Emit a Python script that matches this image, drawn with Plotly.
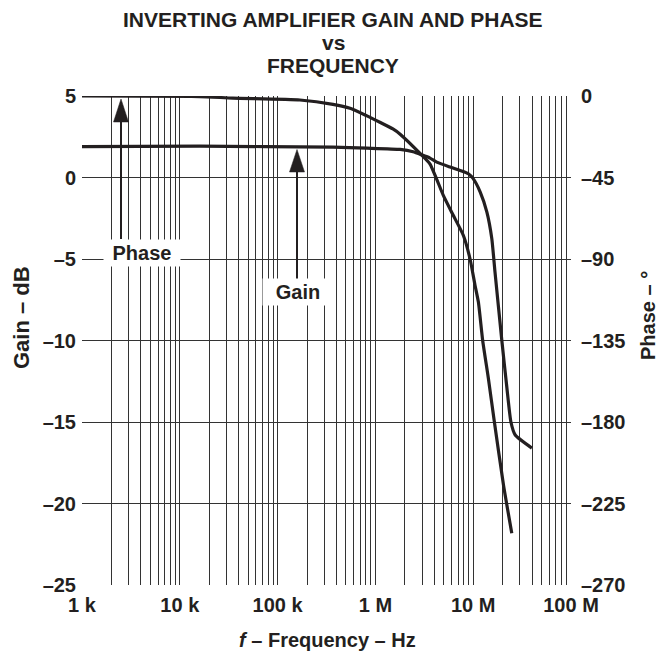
import plotly.graph_objects as go

# ---- data ----
phase_freq = [1e3, 16e3, 34.8e3, 169e3, 368e3, 550e3, 820e3, 1.11e6, 1.51e6, 1.79e6,
              2.98e6, 3.62e6, 4.96e6, 6.27e6, 7.94e6, 9.29e6, 10.45e6, 11.3e6, 12.5e6,
              14.3e6, 16.4e6, 20.4e6, 24.8e6]
phase_deg = [0, -0.3, -1.2, -2.2, -4.6, -6.8, -11, -14.5, -18.2, -21.1,
             -32.7, -37.6, -55, -66, -77, -90, -104.6, -113.8, -135,
             -156, -179.3, -214.8, -241.4]

gain_freq = [1e3, 16e3, 368e3, 820e3, 1.79e6, 2.43e6, 2.98e6, 3.62e6, 4.24e6, 5.81e6,
             7.35e6, 8.93e6, 9.91e6, 11.8e6, 13.8e6, 15.5e6, 16.7e6, 19.6e6, 22.1e6,
             24.3e6, 26.9e6, 39.8e6]
gain_db = [1.9, 1.92, 1.86, 1.8, 1.72, 1.58, 1.39, 1.19, 0.94, 0.64,
           0.43, 0.23, -0.04, -0.89, -2.12, -3.75, -5.79, -9.97, -12.9,
           -15.0, -15.8, -16.6]

x_tick_labels = ["1 k", "10 k", "100 k", "1 M", "10 M", "100 M"]
gain_ticks = [5, 0, -5, -10, -15, -20, -25]
gain_tick_labels = ["5", "0", "–5", "–10", "–15", "–20", "–25"]
phase_ticks = [0, -45, -90, -135, -180, -225, -270]
phase_tick_labels = ["0", "–45", "–90", "–135", "–180", "–225", "–270"]

# ---- layout geometry (window pixel coords; page body has an 8px margin) ----
OFF = 8
W, H = 666 - 2 * OFF, 660 - 2 * OFF
P_L, P_R, P_T, P_B = 82, 571, 96, 585   # plot box in window pixels
ML, MT = P_L - OFF, P_T - OFF
MR, MB = W - (P_R - OFF), H - (P_B - OFF)
PW = P_R - P_L
PH = P_B - P_T
INK = "#231f20"
FONT = "Liberation Sans"


def px(x):
    return (x - P_L) / PW


def py(y):
    return 1 - (y - P_T) / PH


# grid positions 1..9 per decade, labels only at decades
grid_vals = []
grid_text = []
for d in range(3, 8):
    for k in range(1, 10):
        grid_vals.append(k * 10 ** d)
        grid_text.append(x_tick_labels[d - 3] if k == 1 else "")
grid_vals.append(1e8)
grid_text.append(x_tick_labels[-1])

fig = go.Figure()
fig.add_trace(go.Scatter(x=phase_freq, y=phase_deg, yaxis="y2", mode="lines",
                         line=dict(color=INK, width=3.2, shape="spline", smoothing=0.5),
                         showlegend=False, hoverinfo="skip"))
fig.add_trace(go.Scatter(x=gain_freq, y=gain_db, mode="lines",
                         line=dict(color=INK, width=3.2, shape="spline", smoothing=0.5),
                         showlegend=False, hoverinfo="skip"))

tickfont = dict(family=FONT, size=20, color=INK, weight="bold")

fig.update_layout(
    width=W, height=H,
    margin=dict(l=ML, r=MR, t=MT, b=MB, autoexpand=False),
    paper_bgcolor="white", plot_bgcolor="white",
    xaxis=dict(type="log", range=[3, 8], tickmode="array", tickvals=grid_vals,
               ticktext=grid_text, showgrid=True, gridcolor="#333", gridwidth=1,
               zeroline=False, showline=False, ticks="", tickfont=tickfont,
               ticklabelstandoff=6, fixedrange=True),
    yaxis=dict(range=[-25, 5], tickmode="array", tickvals=gain_ticks,
               ticktext=gain_tick_labels, showgrid=True, gridcolor="#333", gridwidth=1,
               zeroline=False, showline=False, ticks="", tickfont=tickfont,
               ticklabelstandoff=5),
    yaxis2=dict(range=[-270, 0], overlaying="y", side="right", tickmode="array",
                tickvals=phase_ticks, ticktext=phase_tick_labels, showgrid=False,
                zeroline=False, showline=False, ticks="", tickfont=tickfont,
                ticklabelstandoff=9),
)

annots = []
title_font = dict(family=FONT, size=21, color=INK, weight="bold")
for txt, y in [("INVERTING AMPLIFIER GAIN AND PHASE", 19.5), ("vs", 42.5), ("FREQUENCY", 65.5)]:
    annots.append(dict(text=txt, x=px(333), y=py(y), xref="paper", yref="paper",
                       xanchor="center", yanchor="middle", showarrow=False, font=title_font))

lab_font = dict(family=FONT, size=20, color=INK, weight="bold")
annots.append(dict(text="<i>f</i> – Frequency – Hz", x=px(327), y=py(640), xref="paper",
                   yref="paper", xanchor="center", yanchor="middle", showarrow=False,
                   font=lab_font))
annots.append(dict(text="Gain – dB", x=px(21), y=py(318), xref="paper", yref="paper",
                   xanchor="center", yanchor="middle", showarrow=False, textangle=-90,
                   font=dict(family=FONT, size=22, color=INK, weight="bold")))
annots.append(dict(text="Phase – °", x=px(648), y=py(316), xref="paper", yref="paper",
                   xanchor="center", yanchor="middle", showarrow=False, textangle=-90,
                   font=lab_font))
# curve labels
annots.append(dict(text="Phase", x=px(142), y=py(252.5), xref="paper", yref="paper",
                   xanchor="center", yanchor="middle", showarrow=False, font=lab_font,
                   bgcolor="white", width=74, height=24, borderpad=1))
annots.append(dict(text="Gain", x=px(298), y=py(292), xref="paper", yref="paper",
                   xanchor="center", yanchor="middle", showarrow=False, font=lab_font,
                   bgcolor="white", width=68, height=24, borderpad=1))
fig.update_layout(annotations=annots)

shapes = []


def arrow(xc, tip, base, bottom):
    shapes.append(dict(type="line", xref="paper", yref="paper", x0=px(xc), x1=px(xc),
                       y0=py(base), y1=py(bottom), line=dict(color=INK, width=2)))
    shapes.append(dict(type="path", xref="paper", yref="paper",
                       path=f"M {px(xc)},{py(tip)} L {px(xc - 7.5)},{py(base)} "
                            f"L {px(xc + 7.5)},{py(base)} Z",
                       fillcolor=INK, line=dict(color=INK, width=0.5)))


arrow(121, 99, 122, 239)
arrow(297, 149.5, 172, 279)
fig.update_layout(shapes=shapes)

fig.write_html("out.html")
